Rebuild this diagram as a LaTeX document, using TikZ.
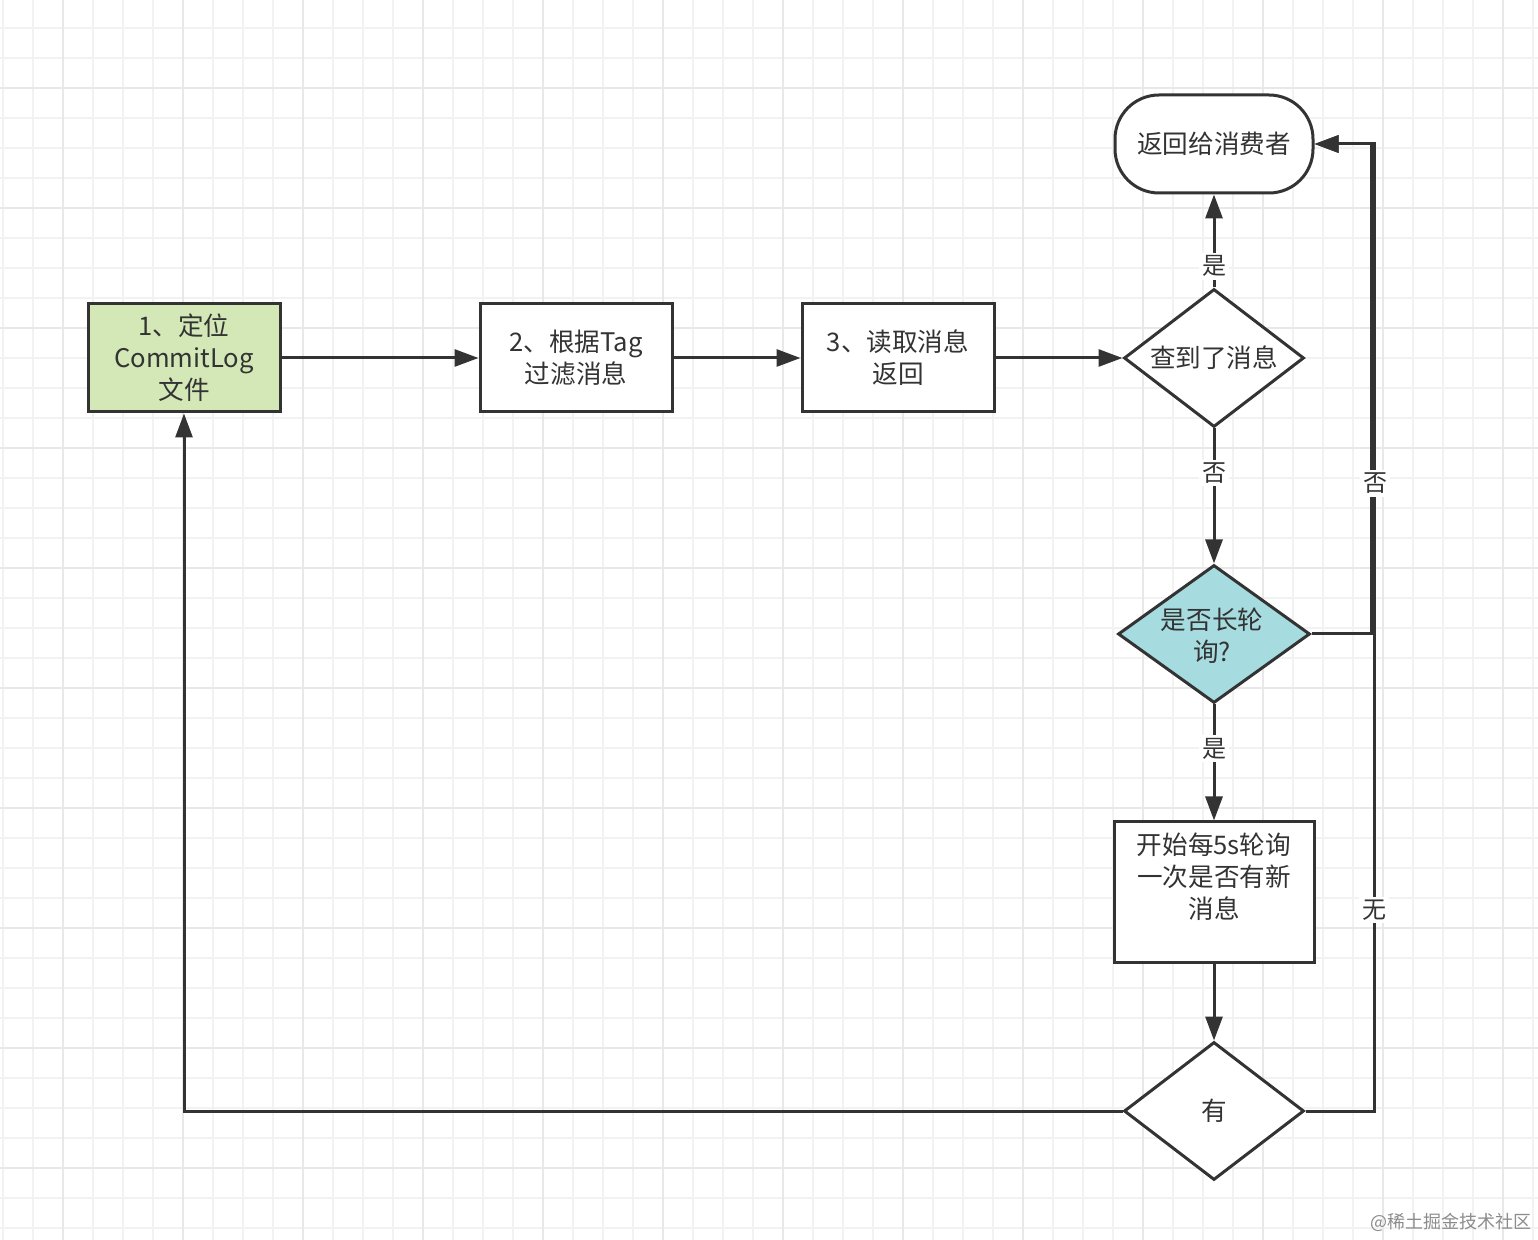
\documentclass[tikz,border=0pt]{standalone}
\usepackage{fontspec}
\setmainfont{Noto Sans CJK SC}
\usetikzlibrary{shapes.geometric,arrows.meta}
\definecolor{ln}{HTML}{333333}
\definecolor{greenfill}{HTML}{D3E8B6}
\definecolor{cyanfill}{HTML}{A6DCDF}
\definecolor{gridminor}{HTML}{F2F2F2}
\definecolor{gridmajor}{HTML}{E8E8E8}
\tikzset{
  txt/.style={text=ln, font=\fontsize{12.8pt}{16pt}\selectfont, align=center},
  box/.style={txt, draw=ln, line width=1.5pt, minimum width=96pt, minimum height=54pt, inner sep=2pt},
  term/.style={txt, draw=ln, line width=1.5pt, minimum width=99pt, minimum height=49pt, rounded corners=22pt},
  dia/.style={diamond, draw=ln, line width=1.5pt, inner sep=0pt, aspect=1, minimum width=90pt, minimum height=69pt, txt},
  arr/.style={draw=ln, line width=1.5pt, -{Triangle[length=12pt,width=8.5pt]}},
  lbl/.style={fill=white, inner sep=1.5pt, text=ln, font=\fontsize{12pt}{14pt}\selectfont},
  gmin/.style={draw=gridminor, line width=0.8pt},
  gmaj/.style={draw=gridmajor, line width=1pt}
}
\begin{document}
\begin{tikzpicture}[x=0.5pt,y=-0.5pt]
\useasboundingbox (0,0) rectangle (1538,1240);
\fill[white] (0,0) rectangle (1538,1240);
% grid
\foreach \x in {3,33,...,1533} \draw[gmin] (\x,0) -- (\x,1240);
\foreach \y in {28,58,...,1238} \draw[gmin] (0,\y) -- (1538,\y);
\foreach \x in {63,183,...,1503} \draw[gmaj] (\x,0) -- (\x,1240);
\foreach \y in {88,208,...,1208} \draw[gmaj] (0,\y) -- (1538,\y);

% nodes
\node[box, fill=greenfill] (n1) at (184,358) {1、定位\\CommitLog\\文件};
\node[box, fill=white] (n2) at (576,358) {2、根据Tag\\过滤消息};
\node[box, fill=white] (n3) at (898,358) {3、读取消息\\返回};
\node[dia, fill=white] (d1) at (1214,358) {};
\node[txt] (d1t) at (1214,358) {查到了消息};
\node[term, fill=white] (r) at (1214,144) {返回给消费者};
\node[dia, fill=cyanfill, minimum width=96pt] (d2) at (1214,634) {};
\node[txt] (d2t) at (1212,636) {是否长轮\\询?};
\node[box, fill=white, minimum width=100pt, minimum height=70pt] (n4) at (1214,892) {};
\node[txt] (n4t) at (1214,877) {开始每5s轮询\\一次是否有新\\消息};
\node[dia, fill=white] (d3) at (1214,1111) {有};

\coordinate (c1) at (1371,0);
\coordinate (c2) at (1374,0);

% edges
\draw[arr] (n1.east) -- (n2.west);
\draw[arr] (n2.east) -- (n3.west);
\draw[arr] (n3.east) -- (d1.west);
\draw[arr] (d1.north) -- node[lbl, pos=0.23] {是} (r.south);
\draw[arr] (d1.south) -- node[lbl, pos=0.33] {否} (d2.north);
\draw[arr] (d2.south) -- node[lbl, pos=0.38] {是} (n4.north);
\draw[arr] (n4.south) -- (d3.north);
\draw[arr] (d3.west) -| (n1.south);
\draw[arr] (d3.east) -- (d3.east -| c2) -- node[lbl, pos=0.208] {无} (c2 |- r.east) -- (r.east);
\draw[arr] (d2.east) -- (d2.east -| c1) -- node[lbl, pos=0.307, xshift=2pt] {否} (c1 |- r.east) -- (r.east);

% watermark
\node[anchor=east, text=black!45, font=\fontsize{9pt}{10pt}\selectfont, inner sep=0pt] (wm) at (1532,1222) {@稀土掘金技术社区};
\end{tikzpicture}
\end{document}
